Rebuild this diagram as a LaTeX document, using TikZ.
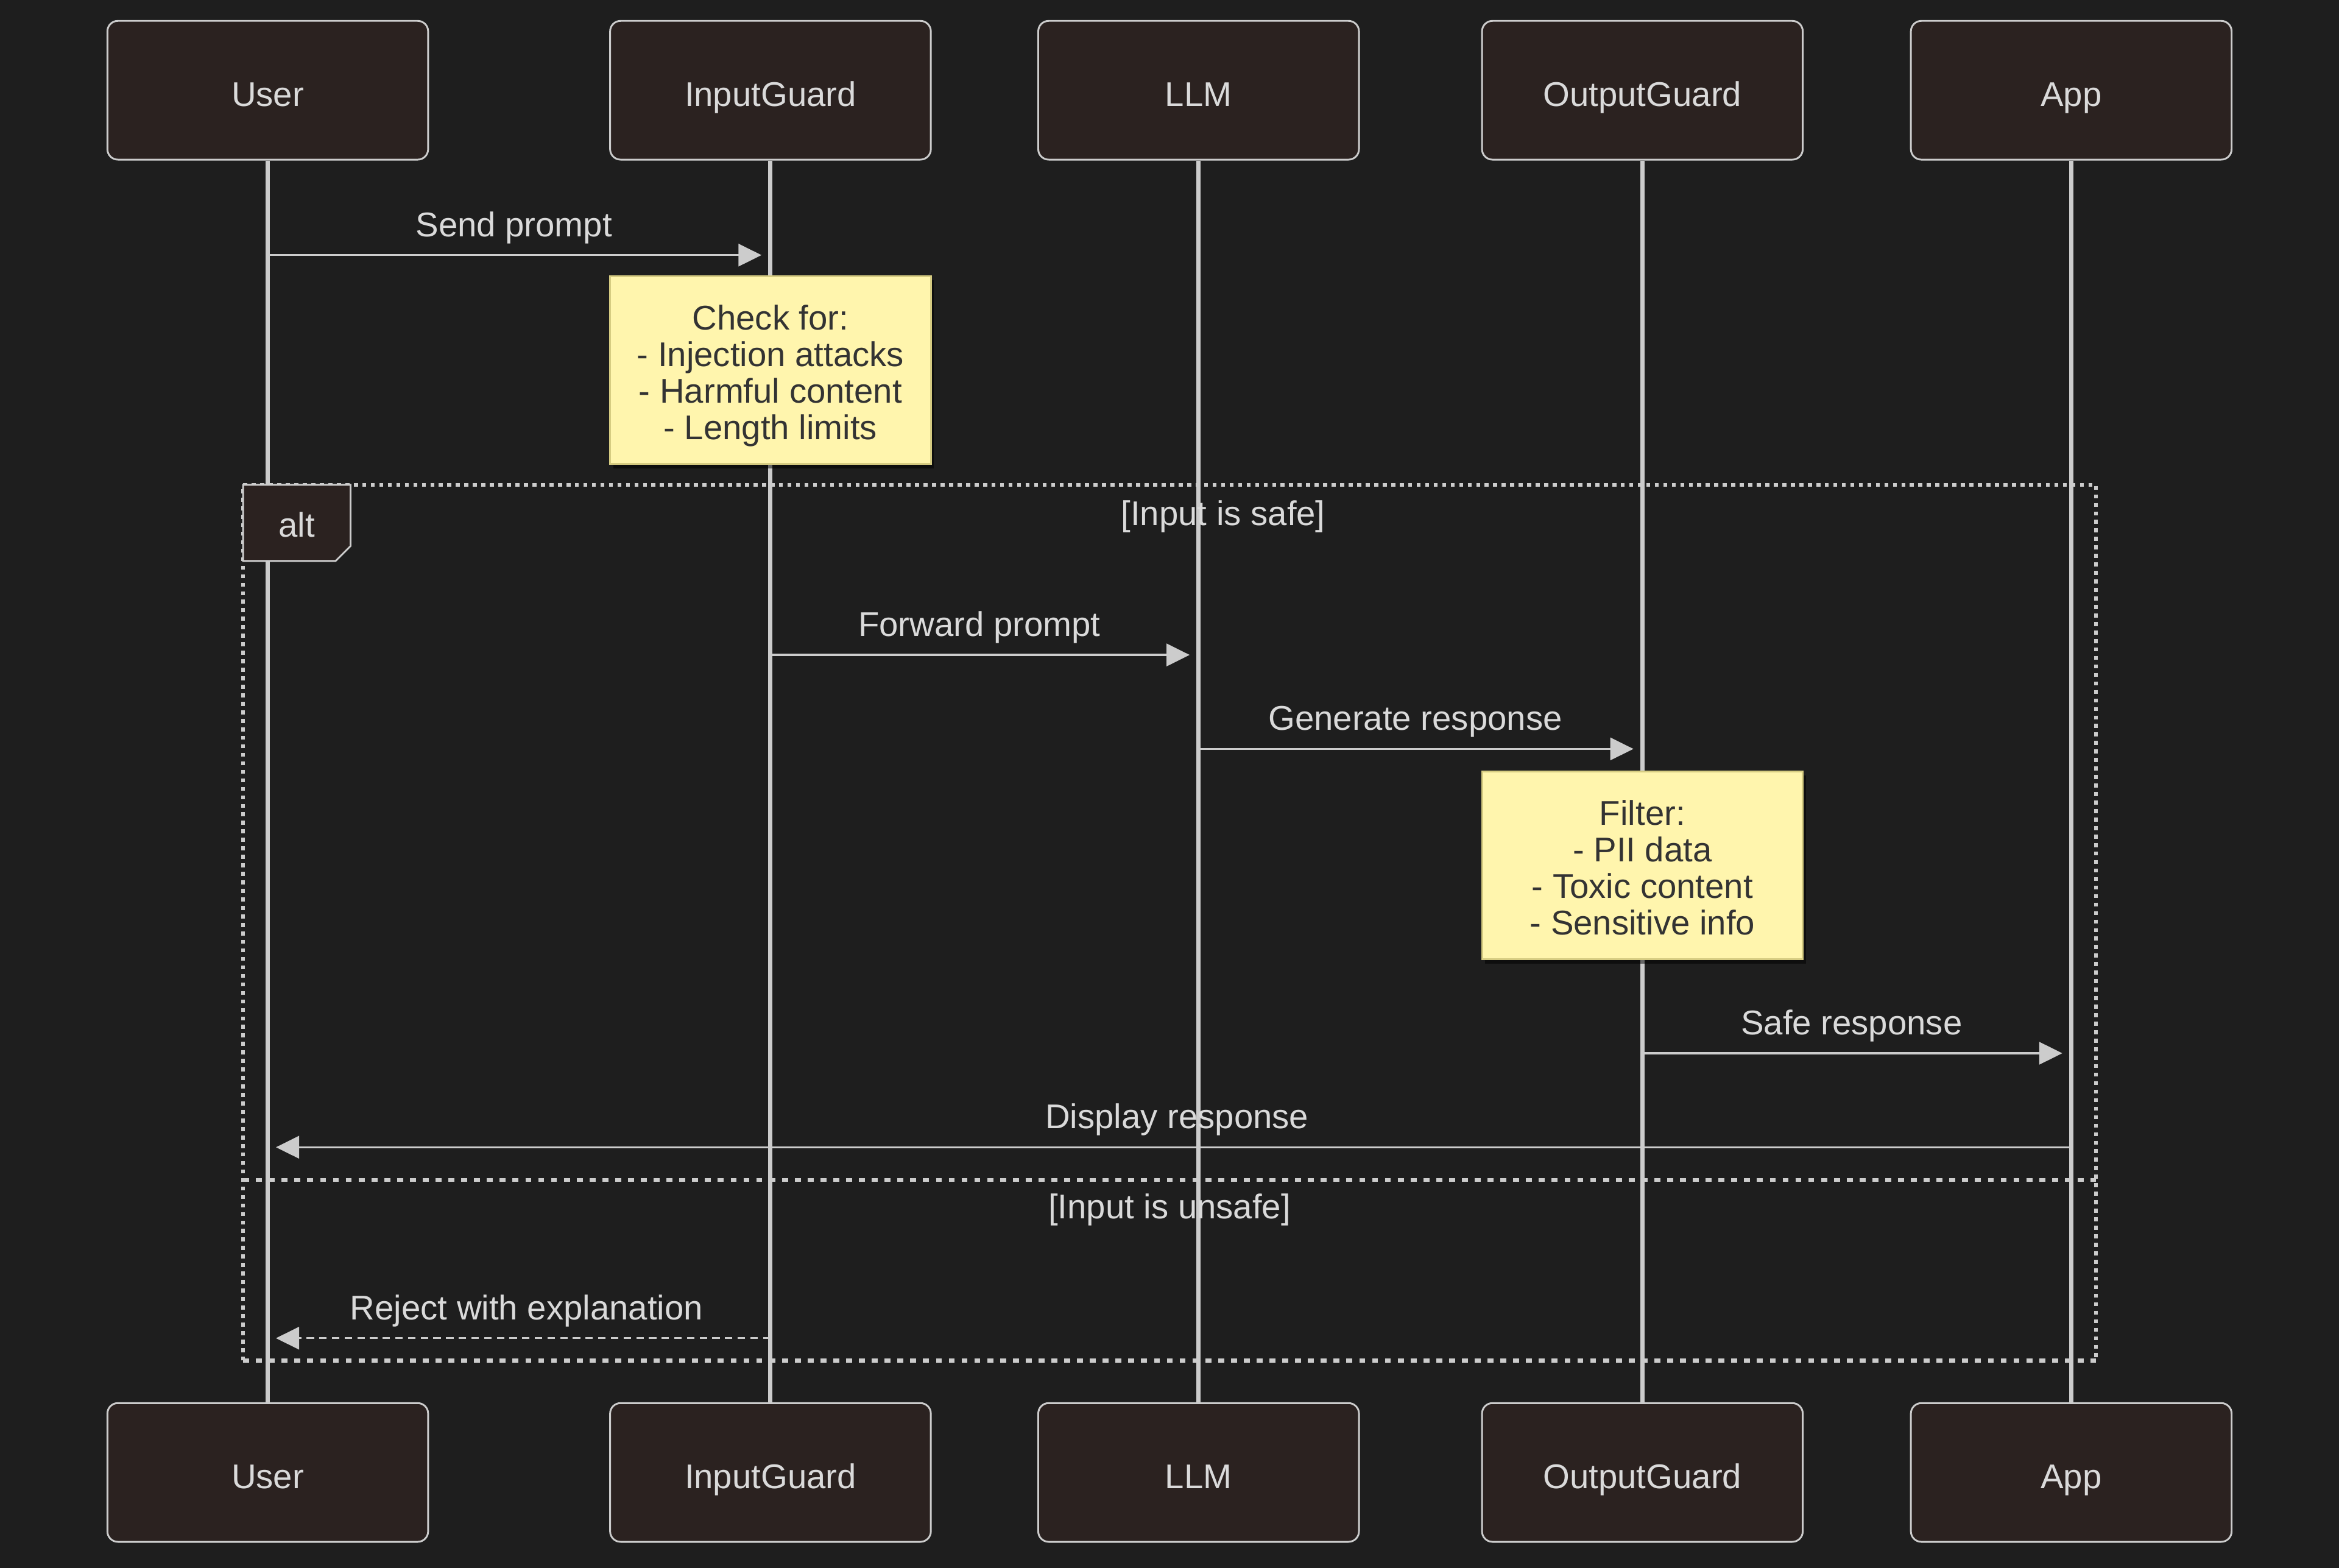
\documentclass[tikz,border=0pt]{standalone}
\usepackage{fontspec}
\setmainfont{Liberation Sans}
\usepackage{tikz}
\usetikzlibrary{arrows.meta,positioning,calc,shadows}

\definecolor{bgcol}{HTML}{1E1E1E}
\definecolor{boxcol}{HTML}{2B2220}
\definecolor{linecol}{HTML}{CCCCCC}
\definecolor{textcol}{HTML}{DADADA}
\definecolor{notecol}{HTML}{FFF5AD}
\definecolor{noteline}{HTML}{D6CC82}
\definecolor{notetext}{HTML}{333333}

\newcommand{\diagfont}{\fontsize{23}{24.5}\selectfont}
\newcommand{\notestrut}{\rule{0pt}{24.5pt}}
\newcommand{\noteend}{\rule[-5pt]{0pt}{5pt}}

\tikzset{
  actor/.style={rectangle, rounded corners=7pt, draw=linecol, line width=1.2pt, fill=boxcol,
    minimum width=215pt, minimum height=93pt, text=textcol, font=\diagfont,
    text height=21.5pt, text depth=0pt},
  lifeline/.style={draw=linecol, line width=2.8pt},
  msg/.style={draw=linecol, line width=1.4pt, -{Triangle[length=15.5pt,width=15pt]}, shorten >=6pt},
  reply/.style={msg, dash pattern=on 5pt off 3.5pt},
  msglabel/.style={text=textcol, font=\diagfont, inner sep=0pt, text height=16pt, text depth=0pt},
  note/.style={rectangle, draw=noteline, line width=1.2pt, fill=notecol, text=notetext, align=center,
    font=\diagfont, minimum width=215pt, minimum height=126pt,
    drop shadow={shadow xshift=2pt, shadow yshift=-3pt, opacity=0.5, fill=black}},
  frame/.style={draw=linecol, line width=2.7pt, dash pattern=on 2.7pt off 3pt},
  sepline/.style={draw=linecol, line width=2.7pt, dash pattern=on 4pt off 4.6pt},
  alttab/.style={draw=linecol, line width=1.2pt, fill=boxcol},
}

\begin{document}
\begin{tikzpicture}[x=1pt, y=-1pt]
  \fill [bgcol] (0,0) rectangle (1568,1051);

  % participants
  \node (userT) [actor] at (179.5,60.5) {User};
  \node (inT) [actor] at (516.5,60.5) {InputGuard};
  \node (llmT) [actor] at (803.5,60.5) {LLM};
  \node (outT) [actor] at (1101,60.5) {OutputGuard};
  \node (appT) [actor] at (1388.5,60.5) {App};

  \node (userB) [actor] at (179.5,987) {User};
  \node (inB) [actor] at (516.5,987) {InputGuard};
  \node (llmB) [actor] at (803.5,987) {LLM};
  \node (outB) [actor] at (1101,987) {OutputGuard};
  \node (appB) [actor] at (1388.5,987) {App};

  \path [lifeline]
  (userT) edge (userB)
  (inT) edge (inB)
  (llmT) edge (llmB)
  (outT) edge (outB)
  (appT) edge (appB);

  % messages
  \coordinate (sendA) at (179.5,171);
  \coordinate (sendB) at (516.5,171);
  \draw [msg] (sendA) -- (sendB) node [msglabel, midway, yshift=20.5pt, xshift=-3.5pt] {Send prompt};

  \coordinate (fwdA) at (516.5,439);
  \coordinate (fwdB) at (803.5,439);
  \draw [msg] (fwdA) -- (fwdB) node [msglabel, midway, yshift=20.5pt, xshift=-3.5pt] {Forward prompt};

  \coordinate (genA) at (803.5,502);
  \coordinate (genB) at (1101,502);
  \draw [msg] (genA) -- (genB) node [msglabel, midway, yshift=20.5pt, xshift=-3.5pt] {Generate response};

  \coordinate (safeA) at (1101,706);
  \coordinate (safeB) at (1388.5,706);
  \draw [msg] (safeA) -- (safeB) node [msglabel, midway, yshift=20.5pt, xshift=-3.5pt] {Safe response};

  \coordinate (dispA) at (1388.5,769);
  \coordinate (dispB) at (179.5,769);
  \draw [msg, shorten >=5.5pt] (dispA) -- (dispB) node [msglabel, midway, yshift=20.5pt, xshift=5pt] {Display response};

  \coordinate (rejA) at (516.5,897);
  \coordinate (rejB) at (179.5,897);
  \draw [reply, shorten >=5.5pt] (rejA) -- (rejB) node [msglabel, midway, yshift=20.5pt, xshift=5pt] {Reject with explanation};

  % alt block
  \draw [frame] (163,912) -- (163,325) -- (1405,325) -- (1405,912);
  \draw [sepline] (163,912) -- (1405,912);
  \draw [sepline] (163,791) -- (1405,791);
  \draw [alttab] (163,325) -- (235,325) -- (235,366) -- (225,376) -- (163,376) -- cycle;
  \node (alt) [msglabel] at (199,352) {alt};
  \node (safe) [msglabel] at (820,344) {[Input is safe]};
  \node (unsafe) [msglabel] at (784,809) {[Input is unsafe]};

  % notes
  \node (checkNote) [note] at (516.5,248) {\notestrut Check for:\\- Injection attacks\\- Harmful content\\- Length limits\noteend};
  \node (filterNote) [note] at (1101,580) {\notestrut Filter:\\- PII data\\- Toxic content\\- Sensitive info\noteend};
\end{tikzpicture}
\end{document}
